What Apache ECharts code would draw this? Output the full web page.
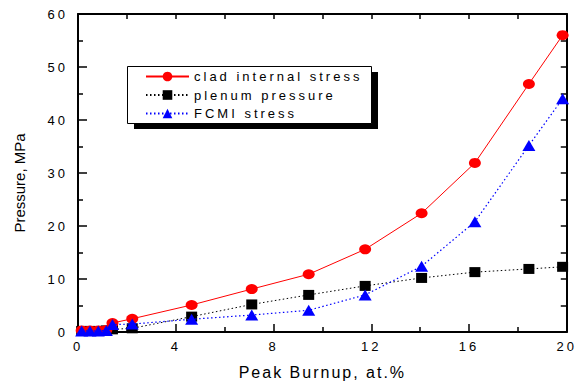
<!DOCTYPE html>
<html>
<head>
<meta charset="utf-8">
<script src="https://cdn.jsdelivr.net/npm/echarts@6/dist/echarts.min.js"></script>
<style>
  html, body { margin: 0; padding: 0; background: #fff; }
  #chart { width: 577px; height: 385px; }
  /* spaced-out lettering for ticks, legend and x title; plain for the y title */
  #chart text { letter-spacing: 3px; }
  #chart text[style*="16px"] { letter-spacing: 2px; }
  #chart text[style*="15px"] { letter-spacing: 0; }
</style>
</head>
<body>
<div id="chart"></div>
<script>
// Peak burnup (at.%) at each calculation point
var burnup = [0.15, 0.49, 0.83, 1.16, 1.41, 2.22, 4.65, 7.11, 9.44, 11.75, 14.06, 16.24, 18.45, 19.83];
// Pressures in MPa
var cladInternalStress = [0.3, 0.3, 0.3, 0.4, 1.7, 2.5, 5.1, 8.1, 10.9, 15.6, 22.4, 31.9, 46.8, 56.0];
var plenumPressure     = [0.2, 0.2, 0.2, 0.3, 0.5, 0.7, 2.9, 5.2, 7.0, 8.7, 10.2, 11.3, 11.9, 12.3];
var fcmiStress         = [0.2, 0.2, 0.2, 0.3, 1.4, 1.5, 2.4, 3.2, 4.1, 7.0, 12.4, 20.8, 35.2, 44.0];

var seriesNames = ['clad internal stress', 'plenum pressure', 'FCMI stress'];

function pairs(ys) {
  return burnup.map(function (x, i) { return [x, ys[i]]; });
}

var FONT = 'Liberation Sans, Arial, sans-serif';
var chart = echarts.init(document.getElementById('chart'), null, { renderer: 'svg' });

var axisLine = { show: true, onZero: false, lineStyle: { color: '#000', width: 2 } };

chart.setOption({
  animation: false,
  backgroundColor: '#fff',
  grid: { left: 78, top: 14, right: 6, bottom: 53, containLabel: false },
  graphic: [
    { type: 'rect', z: 1, shape: { x: 134, y: 72, width: 244, height: 57 }, style: { fill: '#000' } },
    { type: 'rect', z: 1, shape: { x: 127.5, y: 66.5, width: 244, height: 57 }, style: { fill: '#fff', stroke: '#000', lineWidth: 1 } }
  ],
  legend: {
    orient: 'vertical',
    left: 145,
    top: 70,
    padding: 0,
    itemWidth: 43,
    itemHeight: 12,
    itemGap: 5.5,
    z: 5,
    data: seriesNames,
    textStyle: { fontFamily: FONT, fontSize: 13, color: '#000', lineHeight: 12 }
  },
  xAxis: [
    {
      type: 'value', position: 'bottom', min: 0, max: 20, interval: 4,
      axisLine: axisLine,
      axisTick: { inside: true, length: 8, lineStyle: { color: '#000', width: 1.5 } },
      minorTick: { show: true, splitNumber: 2, length: 5, lineStyle: { color: '#000', width: 1.5 } },
      splitLine: { show: false },
      axisLabel: { color: '#000', fontFamily: FONT, fontSize: 13, margin: 8 },
      name: 'Peak Burnup, at.%', nameLocation: 'middle', nameGap: 32,
      nameTextStyle: { color: '#000', fontFamily: FONT, fontSize: 16 }
    },
    {
      type: 'value', position: 'top', min: 0, max: 20, interval: 2,
      axisLine: axisLine,
      axisTick: { inside: true, length: 5, lineStyle: { color: '#000', width: 1.5 } },
      splitLine: { show: false },
      axisLabel: { show: false }
    }
  ],
  yAxis: [
    {
      type: 'value', position: 'left', min: 0, max: 60, interval: 10,
      axisLine: axisLine,
      axisTick: { inside: true, length: 9, lineStyle: { color: '#000', width: 1.5 } },
      minorTick: { show: true, splitNumber: 2, length: 5, lineStyle: { color: '#000', width: 1.5 } },
      splitLine: { show: false },
      axisLabel: { color: '#000', fontFamily: FONT, fontSize: 13, margin: 10 },
      name: 'Pressure, MPa', nameLocation: 'middle', nameGap: 51,
      nameTextStyle: { color: '#000', fontFamily: FONT, fontSize: 15, padding: [0, 20, 0, 0] }
    },
    {
      type: 'value', position: 'right', min: 0, max: 60, interval: 5,
      axisLine: axisLine,
      axisTick: { inside: true, length: 6, lineStyle: { color: '#000', width: 1.5 } },
      splitLine: { show: false },
      axisLabel: { show: false }
    }
  ],
  series: [
    {
      name: seriesNames[0], type: 'line', xAxisIndex: 0, yAxisIndex: 0,
      data: pairs(cladInternalStress),
      symbol: 'circle', symbolSize: [12, 10],
      lineStyle: { color: '#ff0000', width: 1 },
      itemStyle: { color: '#ff0000' },
      z: 3
    },
    {
      name: seriesNames[1], type: 'line', xAxisIndex: 0, yAxisIndex: 0,
      data: pairs(plenumPressure),
      symbol: 'rect', symbolSize: [11, 10],
      lineStyle: { color: '#000', width: 1, type: [1.5, 2.5] },
      itemStyle: { color: '#000' },
      z: 2
    },
    {
      name: seriesNames[2], type: 'line', xAxisIndex: 0, yAxisIndex: 0,
      data: pairs(fcmiStress),
      symbol: 'triangle', symbolSize: [13, 11],
      lineStyle: { color: '#0000ff', width: 1.2, type: [1.5, 2.5] },
      itemStyle: { color: '#0000ff' },
      z: 4
    }
  ]
});
</script>
</body>
</html>
